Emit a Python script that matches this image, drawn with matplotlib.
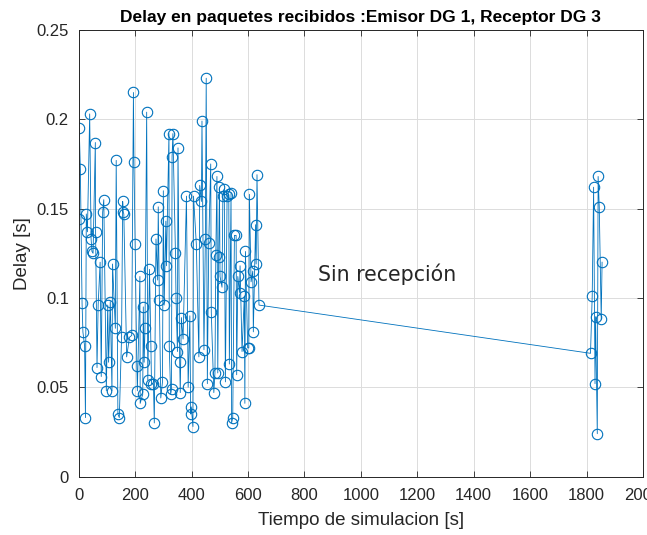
import matplotlib
matplotlib.use("Agg")
import matplotlib.pyplot as plt
import numpy as np

# tiempo de llegada de cada paquete [s] y su retardo [s]
tiempo = [0, 2, 6, 12, 15, 21, 24, 27, 31, 39, 44, 47, 51, 59, 60, 65, 69, 76, 80, 85,
          89, 98, 103, 106, 112, 118, 120, 130, 133, 139, 144, 152, 156, 158, 160, 170,
          180, 188, 194, 196, 200, 206, 208, 217, 218, 227, 229, 232, 235, 241, 245, 251,
          256, 258, 265, 268, 274, 280, 282, 286, 291, 297, 300, 303, 309, 311, 320, 321,
          326, 329, 331, 334, 343, 345, 350, 352, 358, 360, 364, 370, 382, 388, 394, 397,
          399, 405, 407, 417, 426, 429, 435, 437, 444, 449, 452, 456, 461, 468, 470, 479,
          483, 486, 490, 493, 496, 499, 501, 508, 511, 516, 520, 526, 532, 534, 540, 542,
          546, 552, 558, 560, 564, 570, 572, 579, 587, 589, 591, 599, 603, 605, 611, 617,
          619, 627, 629, 632, 639,
          1814, 1820, 1825, 1830, 1832, 1838, 1841, 1845, 1852, 1855]
delay = [0.144, 0.195, 0.172, 0.097, 0.081, 0.073, 0.033, 0.147, 0.137, 0.203, 0.133,
         0.126, 0.125, 0.187, 0.137, 0.061, 0.096, 0.120, 0.056, 0.148, 0.155, 0.048,
         0.096, 0.064, 0.098, 0.048, 0.119, 0.083, 0.177, 0.035, 0.033, 0.078, 0.154,
         0.148, 0.147, 0.067, 0.078, 0.079, 0.215, 0.176, 0.130, 0.062, 0.048, 0.112,
         0.041, 0.046, 0.095, 0.064, 0.083, 0.204, 0.054, 0.116, 0.073, 0.052, 0.052,
         0.030, 0.133, 0.110, 0.151, 0.099, 0.044, 0.053, 0.160, 0.096, 0.143, 0.118,
         0.192, 0.073, 0.046, 0.049, 0.179, 0.192, 0.125, 0.100, 0.070, 0.184, 0.064,
         0.047, 0.089, 0.077, 0.157, 0.050, 0.090, 0.035, 0.039, 0.028, 0.157, 0.130,
         0.067, 0.163, 0.154, 0.199, 0.071, 0.133, 0.223, 0.052, 0.131, 0.175, 0.092,
         0.047, 0.058, 0.124, 0.168, 0.058, 0.123, 0.162, 0.112, 0.106, 0.157, 0.161,
         0.053, 0.157, 0.158, 0.063, 0.159, 0.030, 0.033, 0.135, 0.135, 0.057, 0.112,
         0.103, 0.118, 0.070, 0.101, 0.041, 0.126, 0.072, 0.072, 0.158, 0.109, 0.115,
         0.081, 0.141, 0.119, 0.169, 0.096,
         0.069, 0.101, 0.162, 0.052, 0.0895, 0.024, 0.168, 0.151, 0.088, 0.120]

xticks = np.arange(0, 2001, 200)
yticks = [0, 0.05, 0.1, 0.15, 0.2, 0.25]

plt.rcParams['font.family'] = ['Liberation Sans', 'DejaVu Sans']
plt.rcParams['xtick.direction'] = 'in'
plt.rcParams['ytick.direction'] = 'in'

fig = plt.figure(figsize=(6.47, 5.35), dpi=100)
ax = fig.add_axes([0.1216, 0.1092, 0.8722, 0.8348])

ax.plot(tiempo, delay, color='#0072BD', lw=0.6, marker='o', ms=7.5,
        mfc='none', mew=0.8)

ax.set_xlim(0, 2000)
ax.set_ylim(0, 0.25)
ax.set_xticks(xticks)
ax.set_yticks(yticks)
ax.set_yticklabels(['0', '0.05', '0.1', '0.15', '0.2', '0.25'])
ax.tick_params(colors='#262626', labelsize=12, top=True, right=True,
               length=4, width=0.6)
ax.tick_params(axis='y', pad=7)
ax.tick_params(axis='x', pad=8)
ax.grid(True, color='#dcdcdc', lw=0.7)
ax.set_axisbelow(True)
for s in ax.spines.values():
    s.set_color('#262626')
    s.set_linewidth(0.7)

ax.set_xlabel('Tiempo de simulacion [s]', fontsize=13.5, color='#262626', labelpad=7)
ax.set_ylabel('Delay [s]', fontsize=13.5, color='#262626', labelpad=4)
ax.set_title('Delay en paquetes recibidos :Emisor DG 1, Receptor DG 3',
             fontsize=12.5, fontweight='bold', color='black', pad=6)

ax.text(849, 0.1095, 'Sin recepción', fontsize=14.8, family='DejaVu Sans',
        color='#262626', va='baseline')

fig.savefig('out.png', dpi=100)
